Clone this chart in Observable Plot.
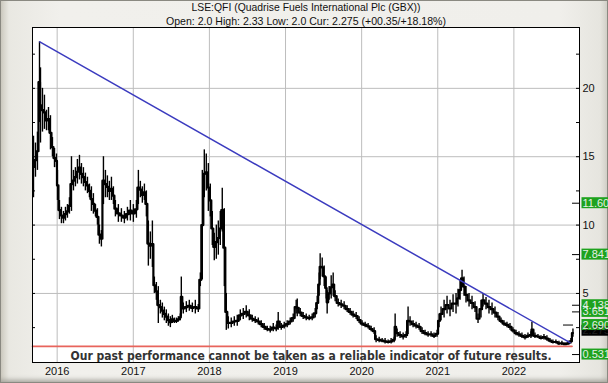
<!DOCTYPE html>
<html><head><meta charset="utf-8">
<script src="https://cdn.jsdelivr.net/npm/d3@7"></script>
<script src="https://cdn.jsdelivr.net/npm/@observablehq/plot@0.6"></script>
<style>
html,body{margin:0;padding:0;background:#eeede8;}
#wrap{width:608px;height:383px;position:relative;overflow:hidden;
background:linear-gradient(to right,#c9c6bb 0px,#e9e8e2 9px,#f1f0ec 60px,#f0efeb 560px,#e6e5df 600px,#cfcdc5 608px);
box-shadow:inset 0 0 0 1px #8a8981, inset 0 -6px 5px -3px #a3a199;}
svg{display:block;overflow:visible}
</style></head><body><div id="wrap"></div>
<script>
// decimal-year time, daily-bar low / high (pence)
const t  = [2015.689,2015.715,2015.741,2015.768,2015.781,2015.807,2015.833,2015.860,2015.886,2015.912,2015.938,2015.965,2015.991,2016.004,2016.030,2016.056,2016.083,2016.109,2016.135,2016.161,2016.188,2016.214,2016.240,2016.266,2016.293,2016.319,2016.345,2016.371,2016.398,2016.424,2016.450,2016.476,2016.503,2016.529,2016.555,2016.581,2016.608,2016.634,2016.660,2016.686,2016.713,2016.739,2016.765,2016.804,2016.844,2016.883,2016.923,2016.962,2017.001,2017.041,2017.067,2017.093,2017.119,2017.146,2017.172,2017.198,2017.224,2017.251,2017.277,2017.303,2017.329,2017.356,2017.382,2017.408,2017.434,2017.461,2017.487,2017.513,2017.539,2017.566,2017.592,2017.618,2017.631,2017.657,2017.697,2017.736,2017.776,2017.815,2017.854,2017.881,2017.907,2017.933,2017.959,2017.986,2018.012,2018.038,2018.064,2018.091,2018.117,2018.143,2018.169,2018.196,2018.222,2018.248,2018.287,2018.327,2018.366,2018.406,2018.445,2018.484,2018.524,2018.563,2018.602,2018.642,2018.681,2018.720,2018.760,2018.799,2018.839,2018.878,2018.904,2018.944,2018.983,2019.022,2019.062,2019.101,2019.140,2019.154,2019.193,2019.232,2019.272,2019.311,2019.350,2019.390,2019.416,2019.442,2019.455,2019.482,2019.508,2019.534,2019.547,2019.573,2019.600,2019.626,2019.652,2019.692,2019.731,2019.770,2019.810,2019.849,2019.888,2019.928,2019.967,2020.006,2020.046,2020.085,2020.125,2020.164,2020.190,2020.230,2020.269,2020.308,2020.348,2020.387,2020.427,2020.440,2020.466,2020.505,2020.545,2020.584,2020.610,2020.636,2020.676,2020.715,2020.755,2020.794,2020.833,2020.873,2020.912,2020.951,2020.991,2021.017,2021.043,2021.083,2021.122,2021.161,2021.201,2021.240,2021.266,2021.293,2021.319,2021.345,2021.371,2021.411,2021.450,2021.490,2021.529,2021.568,2021.595,2021.634,2021.673,2021.713,2021.752,2021.791,2021.831,2021.870,2021.909,2021.949,2021.988,2022.028,2022.067,2022.106,2022.146,2022.185,2022.224,2022.237,2022.277,2022.316,2022.356,2022.395,2022.434,2022.474,2022.513,2022.552,2022.592,2022.631,2022.671,2022.710,2022.749,2022.776];
const lo = [12.0,13.5,14.0,17.5,16.0,16.8,17.0,16.9,16.9,15.5,15.0,14.2,14.2,11.8,10.4,10.1,10.1,10.3,10.5,10.8,11.0,12.5,12.8,13.0,13.3,13.0,12.8,12.5,12.3,12.0,11.0,10.8,10.6,10.0,8.6,8.4,11.5,12.0,12.0,11.8,11.8,11.5,10.6,10.2,10.2,10.1,10.3,10.3,10.2,10.5,11.5,12.0,11.6,11.8,10.6,7.0,7.5,6.9,5.0,4.5,2.8,3.5,3.2,3.0,2.8,2.6,2.5,2.8,2.8,2.8,2.9,3.0,3.3,3.5,3.6,3.7,3.6,3.5,3.6,5.5,6.0,12.0,12.5,11.0,10.6,8.5,7.4,7.5,7.8,8.5,9.5,5.5,2.3,2.4,2.5,2.6,2.6,3.0,3.1,3.2,3.0,2.9,2.8,2.7,2.5,2.3,2.2,2.1,2.2,2.2,2.3,2.3,2.4,2.5,2.7,2.9,3.5,3.3,3.3,3.1,3.0,3.0,3.0,3.2,3.8,4.8,6.0,6.2,5.5,4.6,3.5,4.5,4.6,4.8,4.4,4.0,3.9,3.8,3.6,3.4,3.2,3.1,2.8,2.6,2.5,2.4,2.2,2.0,1.4,1.4,1.4,1.3,1.3,1.3,1.4,1.6,1.8,1.7,1.6,1.7,2.0,2.6,2.5,2.4,2.3,2.0,1.9,1.8,1.8,1.7,1.8,2.5,3.0,3.2,3.5,3.3,3.6,3.5,4.0,4.5,5.5,4.8,4.3,4.0,3.8,3.6,2.8,3.2,4.0,3.8,3.5,3.4,3.2,3.0,2.8,2.6,2.5,2.3,2.1,1.9,1.8,1.7,1.6,1.7,1.7,1.8,1.7,1.7,1.6,1.6,1.5,1.4,1.3,1.3,1.2,1.2,1.2,1.2,1.3,1.8];
const hi = [16.5,16.0,16.8,23.4,21.5,20.0,19.5,18.4,18.6,18.0,16.4,15.6,15.2,14.0,11.8,11.3,11.0,11.3,11.5,12.0,15.0,14.0,14.2,14.8,15.1,14.5,14.2,13.8,13.5,13.0,12.8,12.3,11.5,11.2,10.0,9.6,15.0,14.0,13.6,13.2,13.5,12.8,11.8,11.5,11.2,11.0,11.3,11.8,11.5,11.8,14.0,13.2,12.8,13.0,12.5,10.3,9.5,10.3,6.2,5.8,5.5,4.5,4.3,4.0,3.8,3.5,3.3,3.4,3.2,3.2,3.3,3.5,6.2,4.3,4.4,4.5,4.3,4.5,4.2,6.5,14.0,15.5,15.2,14.5,13.0,11.0,9.4,10.0,10.3,11.0,12.7,11.2,5.0,3.3,3.2,3.3,3.4,3.8,3.9,4.1,3.8,3.4,3.3,3.2,3.0,2.8,2.6,2.6,2.8,2.7,3.6,2.8,2.9,3.0,3.2,3.5,4.5,4.6,3.9,3.6,3.5,3.4,3.5,3.9,4.8,6.5,7.9,7.6,7.0,6.2,5.2,5.5,6.3,6.5,5.2,4.6,4.5,4.4,4.1,3.9,3.7,3.6,3.3,3.0,2.9,2.8,2.6,2.5,1.9,1.8,1.7,1.7,1.6,1.7,1.8,3.5,2.4,2.2,2.1,2.2,4.0,3.3,3.0,2.9,2.8,2.5,2.3,2.2,2.2,2.1,2.3,3.5,4.0,4.5,4.8,4.5,4.9,5.0,5.3,6.0,6.7,6.2,5.5,5.0,4.8,4.4,3.5,4.5,5.0,4.7,4.5,4.3,4.0,3.6,3.2,3.0,2.9,2.8,2.5,2.3,2.2,2.1,2.0,2.1,2.2,2.9,2.1,2.0,1.9,2.0,1.9,1.7,1.6,1.6,1.5,1.5,1.4,1.5,1.7,2.4];

const yearTicks = [2016,2017,2018,2019,2020,2021,2022];
const yLabels = [5,10,15,20];
const yMinor = [2.5,5,7.5,10,12.5,15,17.5,20,22.5];

// trend line (blue) and support line (red)
const trendT = [2015.772, 2022.737];
const trendV = [23.4, 1.4];
const supportT = [2015.676, 2022.763];
const supportV = 1.13;

// right-hand price levels (drawing order)
const levelValues = [11.60, 7.841, 3.651, 4.138, 2.275, 2.690, 0.531];
const levelLabels = ["11.60","7.841","3.651","4.138","2.275","2.690","0.531"];
const currentLabel = "2.275";
const markerLevel = 2.690;

const title = "LSE:QFI (Quadrise Fuels International Plc (GBX))";
const subtitle = "Open: 2.0 High: 2.33 Low: 2.0 Cur: 2.275 (+00.35/+18.18%)";
const disclaimer = "Our past performance cannot be taken as a reliable indicator of future results.";

const bars = t.map((d,i)=>({t:d, lo:lo[i], hi:hi[i], mid:(lo[i]+hi[i])/2}));
const levels = levelValues.map((v,i)=>({v, label:levelLabels[i]}));
const trend = trendT.map((d,i)=>({t:d, v:trendV[i]}));
const support = supportT.map(d=>({t:d, v:supportV}));
const xDomain = [2015.676, 2022.862];
const xEnd = xDomain[1];

const plot = Plot.plot({
  width: 608, height: 383,
  marginLeft: 32, marginRight: 29, marginTop: 27, marginBottom: 21,
  style: {background: "transparent", fontFamily: "'Liberation Sans', Arial, sans-serif", fontSize: "11px", color: "#111"},
  x: {type: "linear", domain: xDomain, label: null},
  y: {domain: [-0.05, 24.45], label: null},
  marks: [
    Plot.frame({fill: "white", stroke: null}),
    Plot.gridX(yearTicks, {stroke: "#bdbdbd", strokeOpacity: 1}),
    Plot.gridY(yLabels, {stroke: "#bdbdbd", strokeOpacity: 1}),
    Plot.ruleY(yMinor, {x1: () => xDomain[0], x2: () => xDomain[0], insetRight: -3, stroke: "#000"}),
    Plot.ruleY(yMinor, {x1: () => xEnd, x2: () => xEnd, insetLeft: -3, stroke: "#000"}),
    Plot.line(support, {x: "t", y: "v", stroke: "#e8645c", strokeWidth: 1.8}),
    Plot.line(bars, {x: "t", y: "mid", stroke: "#000", strokeWidth: 2.2, curve: "step"}),
    Plot.ruleX(bars, {x: "t", y1: "lo", y2: "hi", stroke: "#000", strokeWidth: 1.4}),
    Plot.line(trend, {x: "t", y: "v", stroke: "#3b3bbf", strokeWidth: 1.5}),
    Plot.ruleY(levels.filter(d => d.label !== currentLabel && d.v !== markerLevel), {y: "v", x1: () => xEnd, x2: () => xEnd, insetLeft: -7, stroke: "#000"}),
    Plot.ruleY([markerLevel], {x1: () => xEnd, x2: () => xEnd, insetLeft: -16, insetRight: 6, stroke: "#000"}),
    Plot.axisX(yearTicks, {tickSize: 0, tickPadding: 5, tickFormat: d => String(d), fontSize: 11, fill: "#111", label: null}),
    Plot.axisY(yLabels, {anchor: "right", tickSize: 0, tickPadding: 3, fontSize: 11, fill: "#111", label: null}),
    Plot.rect(levels, {x1: () => xEnd, x2: () => xEnd, y1: "v", y2: "v", insetLeft: 2.5, insetRight: -40, insetTop: -5.5, insetBottom: -5.5,
      fill: d => d.label === currentLabel ? "#000" : "#1ea21e"}),
    Plot.text(levels, {x: () => xEnd, y: "v", text: "label", dx: 3, textAnchor: "start", fontSize: 11,
      fill: d => d.label === currentLabel ? "#222" : "#e6efe6"}),
    Plot.text([disclaimer], {frameAnchor: "bottom", dy: -7, dx: 5, lineAnchor: "middle", fontWeight: "bold", fontSize: 13,
      fontFamily: "'Liberation Sans Narrow', 'DejaVu Sans Condensed', 'Liberation Sans', sans-serif", fill: "#333"}),
    Plot.text([title], {frameAnchor: "top", dy: -19.5, lineAnchor: "middle", fontSize: 10.5, fill: "#111"}),
    Plot.text([subtitle], {frameAnchor: "top", dy: -6, lineAnchor: "middle", fontSize: 10.5, fill: "#111"}),
    Plot.frame({stroke: "#000"})
  ]
});

const fitLen = new Map([[disclaimer, 481], [title, 229], [subtitle, 280]]);
d3.select(plot).selectAll("text").each(function(){
  if (fitLen.has(this.textContent)) {
    this.setAttribute("textLength", fitLen.get(this.textContent));
    this.setAttribute("lengthAdjust", "spacingAndGlyphs");
  }
});
document.getElementById("wrap").appendChild(plot);
</script></body></html>
